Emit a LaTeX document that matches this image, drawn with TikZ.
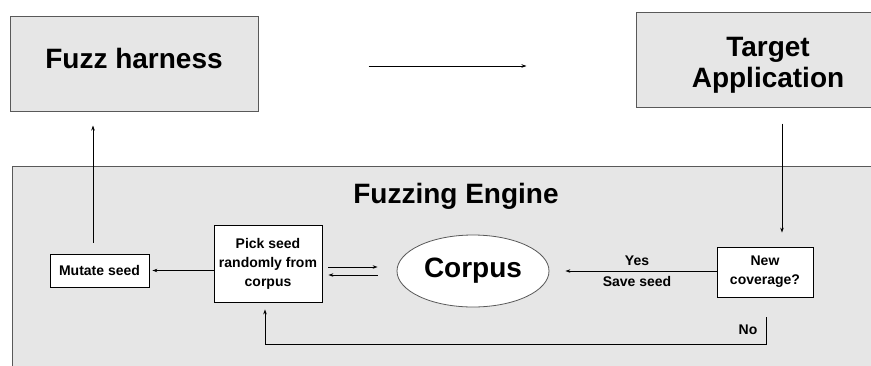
\documentclass[tikz,border=0pt]{standalone}
\usepackage{fontspec}
\setmainfont{Liberation Sans}
\usetikzlibrary{calc,arrows.meta,shapes.geometric}
\definecolor{panel}{HTML}{E6E6E6}
\definecolor{edge}{HTML}{595959}
\tikzset{
  big/.style={font=\bfseries\fontsize{28}{31}\selectfont},
  small/.style={font=\bfseries\fontsize{14}{19}\selectfont},
  outer/.style={draw=edge, fill=panel, line width=1pt, inner sep=0pt, align=center, big},
  inbox/.style={draw=black, fill=white, line width=0.8pt, inner sep=0pt, align=center, small},
  arr/.style={draw=black, line width=1pt, -{Stealth[length=5pt,width=3.5pt]}},
  lab/.style={small, inner sep=0pt},
}
\begin{document}
\begin{tikzpicture}[x=1pt,y=-1pt]
  \useasboundingbox (0,0) rectangle (871,365);
  \clip (0,0) rectangle (871,365);

  % engine panel
  \draw[draw=edge, fill=panel, line width=1pt] (12.5,166) rectangle (900,400);
  \node[big,anchor=base] (title) at (456,203) {Fuzzing Engine};

  \node[outer,minimum width=248pt,minimum height=95pt,text depth=11pt] (harness) at (134,63.5) {Fuzz harness};
  \node[outer,minimum width=264pt,minimum height=95pt,text height=62pt] (target) at (768,59.5) {Target\\Application};

  \node[inbox,minimum width=99pt,minimum height=33pt] (mutate) at (99.5,270.5) {Mutate seed};
  \node[inbox,minimum width=108pt,minimum height=77pt] (pick) at (268,263.5) {Pick seed\\randomly from\\corpus};
  \node[ellipse,draw=edge,fill=white,line width=0.8pt,inner sep=0pt,minimum width=152pt,minimum height=72pt,big] (corpus) at (473,271) {Corpus};
  \node[inbox,minimum width=96pt,minimum height=50pt] (newcov) at (765,272) {New\\coverage?};

  \draw[arr,shorten <=110pt,shorten >=109pt] ([yshift=-2.5pt]harness.east) -- ([yshift=-2.5pt]harness.east -| target.west);
  \draw[arr,shorten <=16pt,shorten >=14pt] ([xshift=14pt]target.south) -- ([xshift=14pt]target.south |- newcov.north);
  \draw[arr,shorten >=16pt] (newcov.west |- corpus.east) -- (corpus.east)
    node[lab,midway,above=5pt,xshift=4pt] (yes) {Yes}
    node[lab,midway,below=5pt,xshift=4pt] (save) {Save seed};
  \draw[arr,shorten <=6pt,shorten >=19pt] ([yshift=4pt]pick.east |- corpus.west) -- ([yshift=4pt]corpus.west);
  \draw[arr,shorten <=19pt,shorten >=6pt] ([yshift=-4pt]corpus.west) -- ([yshift=-4pt]pick.east |- corpus.west);
  \draw[arr,shorten >=3pt] (pick.west |- mutate.east) -- (mutate.east);
  \draw[arr,shorten <=11pt,shorten >=14pt] ([xshift=-6.5pt]mutate.north) -- ([xshift=-6.5pt]mutate.north |- harness.south);

  \coordinate (loop) at (0,344);
  \draw[arr,shorten >=7pt] ([xshift=1pt,yshift=-20pt]newcov.south) |- ([xshift=-3pt]pick.south |- loop) -- ([xshift=-3pt]pick.south);
  \node[lab,anchor=base] (no) at (748,334) {No};
\end{tikzpicture}
\end{document}
